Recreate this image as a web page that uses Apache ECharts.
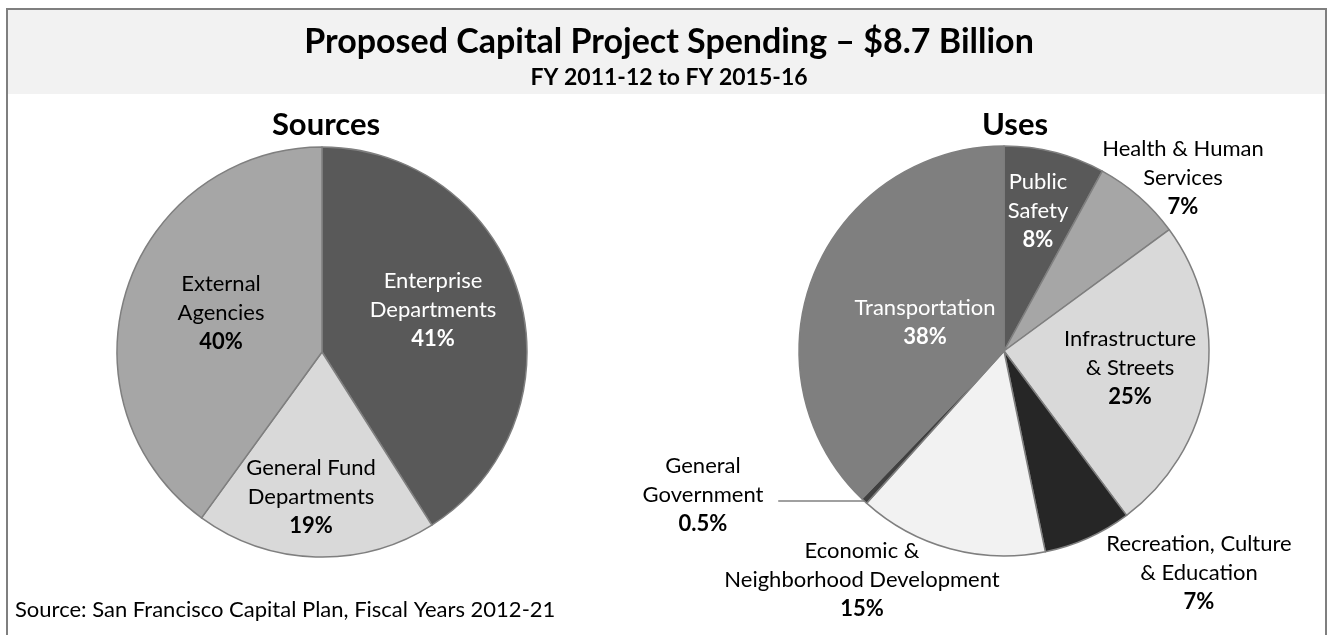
<!DOCTYPE html>
<html>
<head>
<meta charset="utf-8">
<script src="https://cdn.jsdelivr.net/npm/echarts@6/dist/echarts.min.js"></script>
<style>
  html, body { margin: 0; padding: 0; background: #ffffff; }
  #chart { width: 1327px; height: 635px; }
</style>
</head>
<body>
<div id="chart"></div>
<script>
// Funding sources, percent of total
const sourceNames = ['Enterprise\nDepartments', 'General Fund\nDepartments', 'External\nAgencies'];
const sourceValues = [41, 19, 40];

// Spending by use, percent of total
const useNames = [
  'Public\nSafety',
  'Health & Human\nServices',
  'Infrastructure\n& Streets',
  'Recreation, Culture\n& Education',
  'Economic &\nNeighborhood Development',
  'General\nGovernment',
  'Transportation'
];
const useValues = [8, 7, 25, 7, 15, 0.5, 38];

// Styling
const FONT = 'Lato, "Open Sans", "DejaVu Sans", sans-serif';
const sourceColors = ['#595959', '#d9d9d9', '#a6a6a6'];
const useColors = ['#595959', '#a6a6a6', '#d9d9d9', '#262626', '#f2f2f2', '#404040', '#7f7f7f'];
const sourceTextColors = ['#ffffff', '#000000', '#000000'];
const useTextColors = ['#ffffff', '#000000', '#000000', '#000000', '#000000', '#000000', '#ffffff'];

// Pie geometry
const R = 205;
const sourceCenter = [322, 352];
const useCenter = [1004, 351];

// Label anchors, as offsets from each pie's centre
const sourceLabelOffsets = [[111, -42], [-11, 145], [-101, -39]];
const useLabelOffsets = [[34, -140], [179, -173], [126, 17], [195, 222], [-142, 229], [-301, 144], [-79, -29]];
const LEADER_INDEX = 5;      // slice whose label uses a leader line
const LEADER_LENGTH = 86;

function labelText(p) {
  return p.name.split('\n').map(s => '{n|' + s + '}').join('\n') + '\n{p|' + p.value + '%}';
}

function makeData(names, values, colors, textColors) {
  return names.map((n, i) => ({
    name: n,
    value: values[i],
    itemStyle: { color: colors[i] },
    label: { color: textColors[i] }
  }));
}

function midPoint(values, idx, center, r) {
  const total = values.reduce((a, b) => a + b, 0);
  let cum = 0;
  for (let i = 0; i < idx; i++) cum += values[i];
  const a = 2 * Math.PI * (cum + values[idx] / 2) / total;
  return [center[0] + r * Math.sin(a), center[1] - r * Math.cos(a)];
}

const richStyle = {
  n: { fontFamily: FONT, fontSize: 22, lineHeight: 29 },
  p: { fontFamily: FONT, fontSize: 22, lineHeight: 29, fontWeight: 'bold' }
};

function pieSeries(names, values, colors, textColors, center, offsets, leaderIdx) {
  const data = makeData(names, values, colors, textColors);
  if (leaderIdx != null) {
    data[leaderIdx].labelLine = { show: true, lineStyle: { color: '#808080', width: 1.5 } };
  }
  return {
    type: 'pie',
    center: center,
    radius: R,
    startAngle: 90,
    clockwise: true,
    avoidLabelOverlap: false,
    animation: false,
    emphasis: { disabled: true },
    itemStyle: { borderColor: '#7f7f7f', borderWidth: 1.5 },
    label: {
      show: true,
      position: 'outside',
      formatter: labelText,
      rich: richStyle,
      fontFamily: FONT,
      fontSize: 22,
      overflow: 'none'
    },
    labelLine: { show: false },
    labelLayout: function (params) {
      const i = params.dataIndex;
      const out = {
        x: center[0] + offsets[i][0],
        y: center[1] + offsets[i][1],
        align: 'center',
        verticalAlign: 'middle'
      };
      if (i === leaderIdx) {
        const edge = midPoint(values, i, center, R);
        out.labelLinePoints = [edge, [edge[0] - LEADER_LENGTH / 2, edge[1]], [edge[0] - LEADER_LENGTH, edge[1]]];
      }
      return out;
    },
    data: data
  };
}

const chart = echarts.init(document.getElementById('chart'), null, { renderer: 'canvas' });

chart.setOption({
  backgroundColor: '#ffffff',
  animation: false,
  graphic: [
    { type: 'rect', z: -1, shape: { x: 8, y: 10, width: 1317, height: 84 }, style: { fill: '#f2f2f2' } },
    { type: 'rect', z: 100, shape: { x: 7, y: 9, width: 1319, height: 640 }, style: { fill: null, stroke: '#7f7f7f', lineWidth: 2 } }
  ],
  title: [
    {
      text: 'Proposed Capital Project Spending – $8.7 Billion',
      left: 664, top: 20, textAlign: 'center',
      textStyle: { fontFamily: FONT, fontSize: 34, fontWeight: 'bold', color: '#000000' }
    },
    {
      text: 'FY 2011-12 to FY 2015-16',
      left: 664, top: 61, textAlign: 'center',
      textStyle: { fontFamily: FONT, fontSize: 23, fontWeight: 'bold', color: '#000000' }
    },
    {
      text: 'Sources',
      left: 321, top: 104, textAlign: 'center',
      textStyle: { fontFamily: FONT, fontSize: 31, fontWeight: 'bold', color: '#000000' }
    },
    {
      text: 'Uses',
      left: 1010, top: 104, textAlign: 'center',
      textStyle: { fontFamily: FONT, fontSize: 31, fontWeight: 'bold', color: '#000000' }
    },
    {
      text: 'Source: San Francisco Capital Plan, Fiscal Years 2012-21',
      left: 10, top: 594,
      textStyle: { fontFamily: FONT, fontSize: 22, fontWeight: 'normal', color: '#000000' }
    }
  ],
  series: [
    pieSeries(sourceNames, sourceValues, sourceColors, sourceTextColors, sourceCenter, sourceLabelOffsets, null),
    pieSeries(useNames, useValues, useColors, useTextColors, useCenter, useLabelOffsets, LEADER_INDEX)
  ]
});
</script>
</body>
</html>
